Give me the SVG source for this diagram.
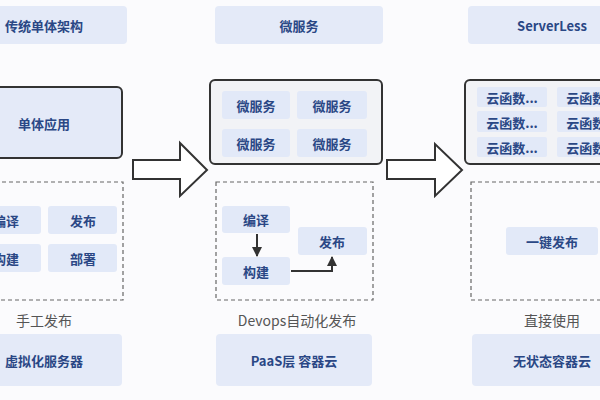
<svg xmlns="http://www.w3.org/2000/svg" width="600" height="400" viewBox="0 0 600 400">
<defs>
<style>
.t{font-family:"Noto Sans CJK SC","Noto Sans",sans-serif;font-size:13px;font-weight:bold;fill:#2a4785;text-anchor:middle;dominant-baseline:central}
.g{font-family:"Noto Sans CJK SC","Noto Sans",sans-serif;font-size:14px;fill:#555;text-anchor:middle;dominant-baseline:central}
.hdr{fill:#e4eaf8}
.inner{fill:#e2e9f8}
.cont{fill:#f2f3f6;stroke:#333;stroke-width:2}
.app{fill:#e4eaf8;stroke:#333;stroke-width:2}
.dash{fill:none;stroke:#666;stroke-width:1.2;stroke-dasharray:4 3}
.big{fill:#fff;stroke:#333;stroke-width:2;stroke-linejoin:miter}
.ln{fill:none;stroke:#333;stroke-width:2}
</style>
<marker id="ah" viewBox="0 0 10 10" refX="9" refY="5" markerWidth="5" markerHeight="5" orient="auto">
<path d="M0,0 L10,5 L0,10 z" fill="#333"/>
</marker>
</defs>
<rect width="600" height="400" fill="#fbfbfd"/>

<!-- Column 1 -->
<g id="col1-title"><rect class="hdr" x="-40" y="6" width="167" height="38" rx="4"/><text class="t" x="44" y="25">传统单体架构</text></g>
<g id="col1-app"><rect class="app" x="-40" y="87" width="162" height="71" rx="5"/><text class="t" x="44" y="123">单体应用</text></g>
<g id="col1-deploy">
<rect class="dash" x="-40" y="182" width="163" height="118"/>
<rect class="inner" x="-30" y="206" width="71" height="28" rx="3"/><text class="t" x="6" y="220">编译</text>
<rect class="inner" x="48" y="206" width="69" height="28" rx="3"/><text class="t" x="83" y="220">发布</text>
<rect class="inner" x="-30" y="244" width="71" height="28" rx="3"/><text class="t" x="6" y="258">构建</text>
<rect class="inner" x="48" y="244" width="69" height="28" rx="3"/><text class="t" x="83" y="258">部署</text>
</g>
<g id="col1-label"><text class="g" x="44" y="320">手工发布</text></g>
<g id="col1-base"><rect class="hdr" x="-40" y="334" width="162" height="52" rx="4"/><text class="t" x="44" y="360">虚拟化服务器</text></g>

<!-- Column 2 -->
<g id="col2-title"><rect class="hdr" x="215" y="6" width="168" height="38" rx="4"/><text class="t" x="299" y="25">微服务</text></g>
<g id="col2-services">
<rect class="cont" x="210" y="80" width="172" height="84" rx="5"/>
<rect class="inner" x="222" y="91" width="68" height="28" rx="3"/><text class="t" x="256" y="105">微服务</text>
<rect class="inner" x="297" y="91" width="70" height="28" rx="3"/><text class="t" x="332" y="105">微服务</text>
<rect class="inner" x="222" y="129" width="68" height="28" rx="3"/><text class="t" x="256" y="143">微服务</text>
<rect class="inner" x="297" y="129" width="70" height="28" rx="3"/><text class="t" x="332" y="143">微服务</text>
</g>
<g id="col2-deploy">
<rect class="dash" x="216" y="182" width="157" height="118"/>
<rect class="inner" x="222" y="206" width="68" height="27" rx="3"/><text class="t" x="256" y="219">编译</text>
<rect class="inner" x="222" y="257" width="68" height="28" rx="3"/><text class="t" x="256" y="271">构建</text>
<rect class="inner" x="298" y="227" width="69" height="28" rx="3"/><text class="t" x="332" y="241">发布</text>
</g>
<g id="col2-label"><text class="g" x="297" y="320">Devops自动化发布</text></g>
<g id="col2-base"><rect class="hdr" x="216" y="334" width="156" height="52" rx="4"/><text class="t" x="294" y="360">PaaS层 容器云</text></g>

<!-- Column 3 -->
<g id="col3-title"><rect class="hdr" x="468" y="6" width="168" height="38" rx="4"/><text class="t" x="552" y="25">ServerLess</text></g>
<g id="col3-functions">
<rect class="cont" x="465" y="80" width="172" height="84" rx="5"/>
<rect class="inner" x="477" y="87" width="70" height="20" rx="2"/><text class="t" x="512" y="97">云函数...</text>
<rect class="inner" x="477" y="111" width="70" height="21" rx="2"/><text class="t" x="512" y="122">云函数...</text>
<rect class="inner" x="477" y="137" width="70" height="20" rx="2"/><text class="t" x="512" y="147">云函数...</text>
<rect class="inner" x="557" y="87" width="70" height="20" rx="2"/><text class="t" x="592" y="97">云函数...</text>
<rect class="inner" x="557" y="111" width="70" height="21" rx="2"/><text class="t" x="592" y="122">云函数...</text>
<rect class="inner" x="557" y="137" width="70" height="20" rx="2"/><text class="t" x="592" y="147">云函数...</text>
</g>
<g id="col3-deploy">
<rect class="dash" x="471" y="182" width="160" height="118"/>
<rect class="inner" x="506" y="227" width="92" height="28" rx="3"/><text class="t" x="552" y="241">一键发布</text>
</g>
<g id="col3-label"><text class="g" x="552" y="320">直接使用</text></g>
<g id="col3-base"><rect class="hdr" x="472" y="334" width="164" height="52" rx="4"/><text class="t" x="552" y="360">无状态容器云</text></g>

<!-- Connectors -->
<g id="connectors">
<path class="big" d="M133,160 L180,160 L180,143 L207,170 L180,196 L180,179 L133,179 Z"/>
<path class="big" d="M387,160 L435,160 L435,144 L462,170 L435,196 L435,179 L387,179 Z"/>
<path class="ln" d="M257,234 L257,256" marker-end="url(#ah)"/>
<path class="ln" d="M291,271 L332,271 L332,257" marker-end="url(#ah)"/>
</g>
</svg>
